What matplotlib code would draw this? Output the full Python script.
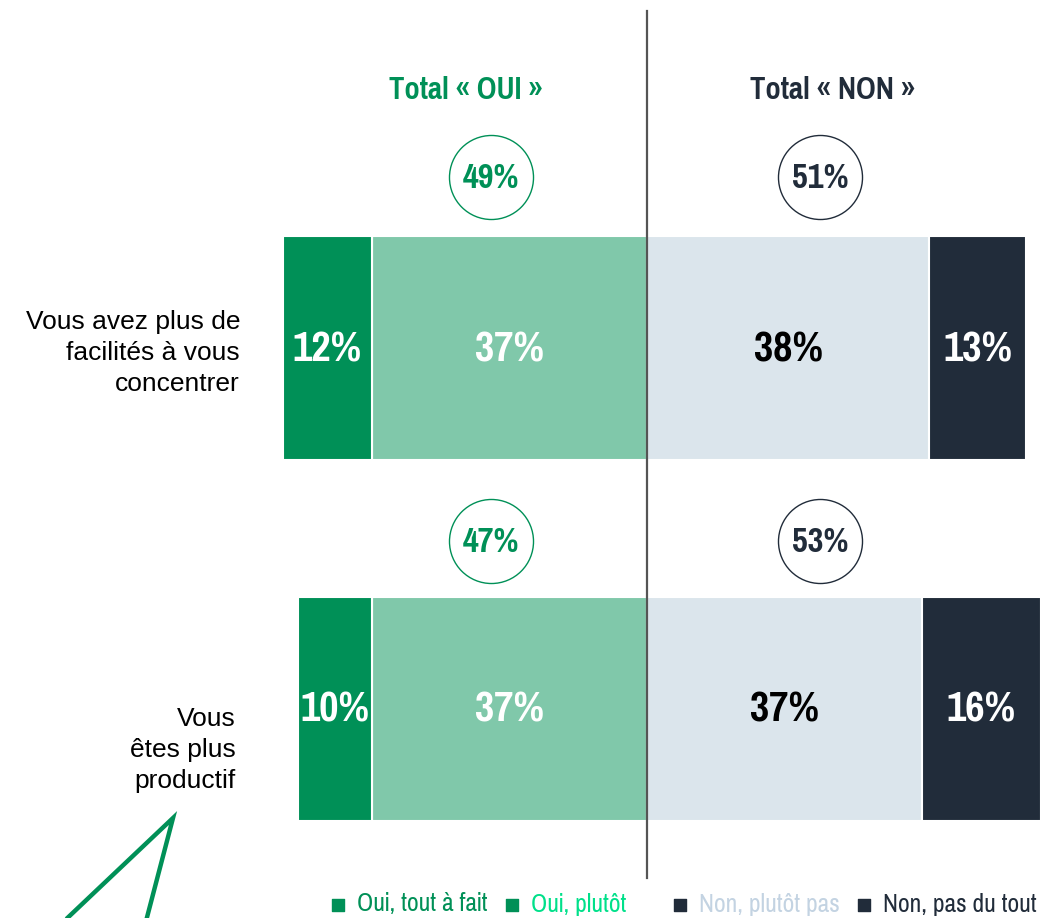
import matplotlib.pyplot as plt

categories = ["Vous avez plus de\nfacilités à vous\nconcentrer", "Vous\nêtes plus\nproductif"]
oui_tout = [12, 10]
oui_plutot = [37, 37]
non_plutot = [38, 37]
non_pas = [13, 16]
legend_labels = ["Oui, tout à fait", "Oui, plutôt", "Non, plutôt pas", "Non, pas du tout"]

GREEN = "#009057"
LGREEN = "#80C8AA"
LGRAY = "#DBE5EC"
NAVY = "#212C3A"
NARROW = ["Pragati Narrow", "Roboto Condensed", "Archivo Narrow",
          "Open Sans Condensed", "DejaVu Sans"]
SANS = ["Liberation Sans", "DejaVu Sans"]

W, H = 1046, 918
PX = 7.43  # pixels per percent
X0 = 647   # pixel position of the 0 line

fig = plt.figure(figsize=(W / 100, H / 100), dpi=100)
ax = fig.add_axes([0, 0, 1, 1])
ax.set_xlim(-X0 / PX, (W - X0) / PX)
ax.set_ylim(H, 0)
ax.axis("off")

bar_y = [348, 709]
bar_h = 224
kw = dict(height=bar_h, edgecolor="white", linewidth=1.5)
for i in range(len(categories)):
    y = bar_y[i]
    ax.barh(y, -oui_plutot[i], left=0, color=LGREEN, **kw)
    ax.barh(y, -oui_tout[i], left=-oui_plutot[i], color=GREEN, **kw)
    ax.barh(y, non_plutot[i], left=0, color=LGRAY, **kw)
    ax.barh(y, non_pas[i], left=non_plutot[i], color=NAVY, **kw)

    segs = [(-oui_plutot[i] - oui_tout[i] / 2, oui_tout[i], "white"),
            (-oui_plutot[i] / 2, oui_plutot[i], "white"),
            (non_plutot[i] / 2, non_plutot[i], "black"),
            (non_plutot[i] + non_pas[i] / 2, non_pas[i], "white")]
    for xc, v, c in segs:
        ax.text(xc, y + 1, f"{v}%", ha="center", va="center", color=c,
                fontsize=33, fontweight="bold", family=NARROW)

# overlay axes in pixel units for decorations
deco = fig.add_axes([0, 0, 1, 1], facecolor="none")
deco.set_xlim(0, W)
deco.set_ylim(H, 0)
deco.axis("off")

deco.plot([X0, X0], [11, 878], color="#555555", lw=1.6)

deco.text(466, 90, "Total « OUI »", ha="center", va="center", color=GREEN,
          fontsize=24, fontweight="bold", family=NARROW)
deco.text(832, 90, "Total « NON »", ha="center", va="center", color=NAVY,
          fontsize=24, fontweight="bold", family=NARROW)

circle_y = [177, 541]
for i in range(len(categories)):
    tot_oui = oui_tout[i] + oui_plutot[i]
    tot_non = non_plutot[i] + non_pas[i]
    for cx, val, col in [(491, tot_oui, GREEN), (820, tot_non, NAVY)]:
        deco.scatter([cx], [circle_y[i]], s=60.5 ** 2, facecolors="white",
                     edgecolors=col, linewidths=1.0, zorder=3)
        deco.text(cx, circle_y[i] + 1, f"{val}%", ha="center", va="center",
                  color=col, fontsize=27, fontweight="bold", family=NARROW, zorder=4)

cat_pos = [(240, 353), (236, 750)]
for (cx, cy), lab in zip(cat_pos, categories):
    deco.text(cx, cy, lab, ha="right", va="center", fontsize=19,
              family=SANS, linespacing=1.38, color="black")

# green arrow outline
deco.plot([60, 173, 145], [925, 818, 925], color=GREEN, lw=3.2,
          solid_joinstyle="miter", solid_capstyle="butt")

# legend
leg_x = [338, 512, 680, 864]
sq_cols = [GREEN, GREEN, NAVY, NAVY]
txt_cols = [GREEN, "#00E08A", "#C3D3E2", NAVY]
for x, lab, sc, tc in zip(leg_x, legend_labels, sq_cols, txt_cols):
    deco.scatter([x], [905], marker="s", s=80, color=sc)
    deco.text(x + 19, 904, lab, ha="left", va="center", color=tc,
              fontsize=20, family=NARROW)

fig.savefig("out.png", dpi=100)
